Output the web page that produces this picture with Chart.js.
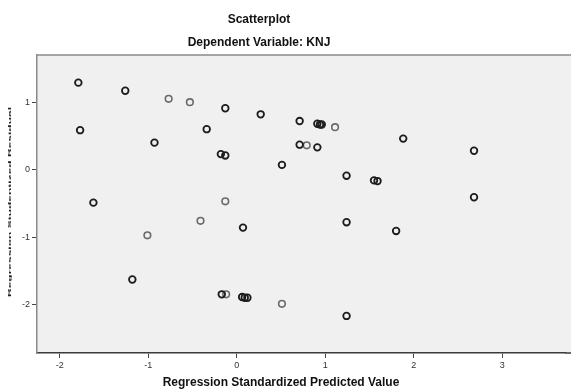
<!DOCTYPE html>
<html>
<head>
<meta charset="utf-8">
<script src="https://cdn.jsdelivr.net/npm/chart.js@4"></script>
<style>
  html, body { margin: 0; padding: 0; background: #fff; }
  #wrap { width: 571px; height: 390px; }
</style>
</head>
<body>
<div id="wrap"><canvas id="scatter"></canvas></div>
<script>
// ---- data ----
const predDark = [-1.79, -1.26, -1.77, -0.93, -1.62, -0.13, 0.27, -0.34, 0.71, 0.91, 0.94, 0.96,
  -0.18, -0.13, 0.71, 0.91, 0.51, 1.24, 1.55, 1.59, 1.88, 2.68, 2.68, 0.07, 1.24, 1.80,
  -1.18, -0.17, 0.06, 0.09, 0.12, 1.24];
const residDark = [1.29, 1.17, 0.585, 0.40, -0.49, 0.91, 0.82, 0.60, 0.72, 0.68, 0.67, 0.67,
  0.23, 0.21, 0.37, 0.33, 0.07, -0.09, -0.16, -0.17, 0.46, 0.28, -0.41, -0.86, -0.78, -0.91,
  -1.63, -1.85, -1.89, -1.90, -1.90, -2.17];
const predLight = [-0.77, -0.53, 1.11, 0.79, -0.13, -1.01, -0.41, -0.12, 0.51];
const residLight = [1.05, 1.0, 0.63, 0.36, -0.47, -0.975, -0.76, -1.85, -1.99];

const xTicks = [-2, -1, 0, 1, 2, 3];
const yTicks = [-2, -1, 0, 1];

const toPoints = (xs, ys) => xs.map((x, i) => ({ x: x, y: ys[i] }));

// ---- background, frame and texts ----
const framePlugin = {
  id: "frame",
  beforeDraw(chart) {
    const { ctx, chartArea: a } = chart;
    ctx.save();
    ctx.fillStyle = "#f0f0f0";
    ctx.fillRect(a.left, a.top, chart.width - a.left, a.bottom - a.top);
    ctx.strokeStyle = "#8a8a8a";
    ctx.lineWidth = 1.5;
    ctx.beginPath();
    ctx.moveTo(chart.width, a.top);
    ctx.lineTo(a.left, a.top);
    ctx.stroke();
    ctx.strokeStyle = "#3a3a3a";
    ctx.beginPath();
    ctx.moveTo(a.right, a.bottom);
    ctx.lineTo(chart.width, a.bottom);
    ctx.stroke();
    ctx.restore();
  },
  afterDraw(chart) {
    const ctx = chart.ctx;
    ctx.save();
    ctx.fillStyle = "#111";
    ctx.textAlign = "center";
    ctx.textBaseline = "middle";
    ctx.font = "bold 12px 'Liberation Sans', Arial, sans-serif";
    ctx.fillText("Scatterplot", 259, 20);
    ctx.fillText("Dependent Variable: KNJ", 259, 43);
    ctx.fillText("Regression Standardized Predicted Value", 281, 383);
    // squashed vertical y title, as in the source image
    ctx.translate(10, 202);
    ctx.rotate(-Math.PI / 2);
    ctx.scale(1.0, 0.22);
    ctx.fillStyle = "#222";
    ctx.fillText("Regression Studentized Residual", 0, 0);
    ctx.restore();
  }
};

const tickFont = { family: "'Liberation Sans', Arial, sans-serif", size: 9 };

const ctx = document.getElementById("scatter").getContext("2d");
const scatterChart = new Chart(ctx, {
  type: "scatter",
  data: {
    datasets: [{
      data: toPoints(predDark, residDark),
      borderColor: "#1c1c1c",
      backgroundColor: "rgba(0,0,0,0)",
      borderWidth: 1.8,
      pointRadius: 3.3
    }, {
      data: toPoints(predLight, residLight),
      borderColor: "#6a6a6a",
      backgroundColor: "rgba(0,0,0,0)",
      borderWidth: 1.6,
      pointRadius: 3.3
    }]
  },
  options: {
    responsive: true,
    maintainAspectRatio: false,
    animation: false,
    layout: { padding: { top: 55, right: 0, left: 0, bottom: 0 } },
    plugins: {
      legend: { display: false },
      tooltip: { enabled: false }
    },
    scales: {
      x: {
        type: "linear",
        min: -2.257,
        max: 3.71,
        afterBuildTicks: (s) => { s.ticks = xTicks.map(v => ({ value: v })); },
        afterFit: (s) => { s.height = 37; },
        border: { color: "#3a3a3a", width: 1.5 },
        grid: { drawOnChartArea: false, tickLength: 5, color: "#444" },
        ticks: { color: "#333", font: tickFont, padding: 2, autoSkip: false, maxRotation: 0 }
      },
      y: {
        type: "linear",
        min: -2.72,
        max: 1.70,
        afterBuildTicks: (s) => { s.ticks = yTicks.map(v => ({ value: v })); },
        afterFit: (s) => { s.width = 37; },
        border: { color: "#8a8a8a", width: 1.5 },
        grid: { drawOnChartArea: false, tickLength: 5, color: "#444" },
        ticks: { color: "#333", font: tickFont, padding: 2, autoSkip: false }
      }
    }
  },
  plugins: [framePlugin]
});
</script>
</body>
</html>
